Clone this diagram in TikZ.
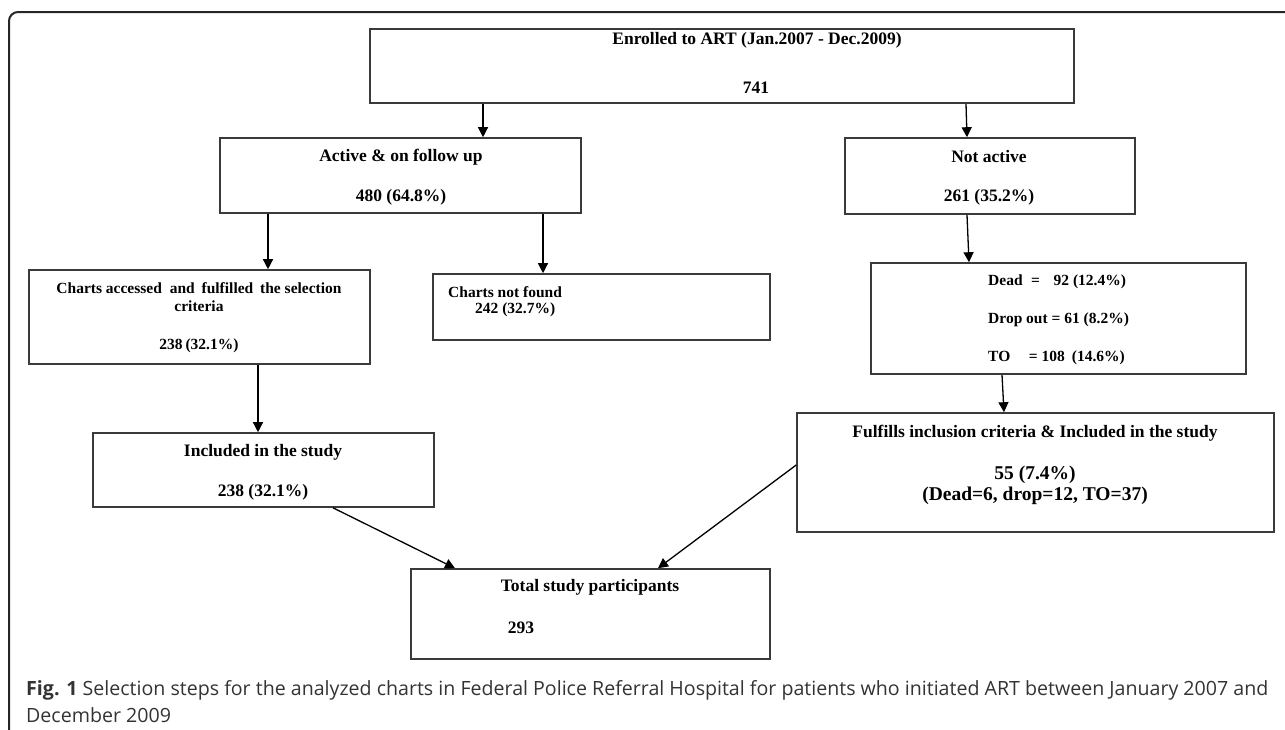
\documentclass[tikz,border=0pt]{standalone}
\usepackage{fontspec}
\setmainfont{Liberation Serif}
\newfontfamily\capfont{Open Sans}
\usetikzlibrary{arrows.meta}
\definecolor{boxline}{HTML}{3A3A3A}
\definecolor{captxt}{HTML}{333333}
\begin{document}
\begin{tikzpicture}[x=1pt,y=-1pt,
  box/.style={draw=boxline,line width=1.6pt,inner sep=0pt,rectangle},
  arr/.style={draw=black,line width=1.3pt,-{Triangle[length=10pt,width=10pt]}},
  big/.style={font=\fontsize{17.5}{20}\selectfont\bfseries,inner sep=0pt},
  mid/.style={font=\fontsize{15.5}{18}\selectfont\bfseries,inner sep=0pt},
  large/.style={font=\fontsize{19.5}{21}\selectfont\bfseries,inner sep=0pt},
  captext/.style={anchor=base west,inner sep=0pt,color=captxt,font=\capfont\fontsize{19.6}{27}\selectfont},
]
\useasboundingbox (0,0) rectangle (1285,729);
% frame
\draw[line width=2pt,color=black!85,rounded corners=9pt] (1295,12) -- (9,12) -- (9,740);

% boxes
\node[box,minimum width=704pt,minimum height=74pt] (top) at (722,66) {};
\node[box,minimum width=361pt,minimum height=75pt] (active) at (400.5,175.5) {};
\node[box,minimum width=290pt,minimum height=76pt] (notact) at (990,176) {};
\node[box,minimum width=341pt,minimum height=94pt] (charts) at (199.5,317) {};
\node[box,minimum width=337pt,minimum height=66pt] (notfound) at (601.5,307) {};
\node[box,minimum width=375pt,minimum height=111pt] (dead) at (1058.5,318.5) {};
\node[box,minimum width=477pt,minimum height=119pt] (ful) at (1035.5,472.5) {};
\node[box,minimum width=341pt,minimum height=74pt] (incl) at (263.5,470) {};
\node[box,minimum width=359pt,minimum height=90pt] (total) at (590.5,614) {};

% texts
\node[big] (topA) at (757,40) {Enrolled to ART (Jan.2007 - Dec.2009)};
\node[big] (topB) at (756,88) {741};
\node[big] (activeA) at (401,157) {Active \& on follow up};
\node[big] (activeB) at (401,197) {480 (64.8\%)};
\node[big] (notactA) at (989,157) {Not active};
\node[big] (notactB) at (989,197) {261 (35.2\%)};
\node[mid,align=center] (chartsA) at (199,297) {Charts accessed\hspace{4pt} and\hspace{3pt} fulfilled\hspace{3pt} the selection\\criteria};
\node[mid] (chartsB) at (199,346) {238\hspace{-1pt} (32.1\%)};
\node[mid,anchor=west] (notfoundA) at (448,292) {Charts not found};
\node[mid,anchor=west] (notfoundB) at (475,310) {242 (32.7\%)};
\node[mid,anchor=west] (deadA) at (988,282) {Dead\hspace{8.6pt}=\hspace{13.6pt}92 (12.4\%)};
\node[mid,anchor=west] (deadB) at (988,320) {Drop out = 61 (8.2\%)};
\node[mid,anchor=west] (deadC) at (988,358) {TO\hspace{18.6pt}= 108\hspace{7pt}(14.6\%)};
\node[big] (fulA) at (1035,433) {Fulfills inclusion criteria \& Included in the study};
\node[large] (fulB) at (1035,475) {55 (7.4\%)};
\node[large] (fulC) at (1035,496) {(Dead=6, drop=12, TO=37)};
\node[big] (inclA) at (263,452) {Included in the study};
\node[big] (inclB) at (263,492) {238 (32.1\%)};
\node[big] (totalA) at (590,587) {Total study participants};
\node[big] (totalB) at (521,628) {293};

% caption
\node[captext] (capA) at (26,695) {\textbf{Fig. 1} Selection steps for the analyzed charts in Federal Police Referral Hospital for patients who initiated ART between January 2007 and};
\node[captext] (capB) at (26,722) {December 2009};

% connectors
\draw[arr] ([xshift=-239pt]top.south) -- ([xshift=82.5pt]active.north);
\draw[arr] ([xshift=244pt]top.south) -- ([xshift=-23pt]notact.north);
\draw[arr] ([xshift=-132.5pt]active.south) -- ([xshift=68.5pt]charts.north);
\draw[arr] ([xshift=142.5pt]active.south) -- ([xshift=-58.5pt]notfound.north);
\draw[arr] ([xshift=-23pt]notact.south) -- ([xshift=-89.5pt]dead.north);
\draw[arr] ([xshift=-56.5pt]dead.south) -- ([xshift=-31.5pt]ful.north);
\draw[arr] ([xshift=58.5pt]charts.south) -- ([xshift=-5.5pt]incl.north);
\draw[arr] ([xshift=69.5pt]incl.south) -- ([xshift=-135.5pt]total.north);
\draw[arr] ([yshift=7.5pt]ful.west) -- ([xshift=67.5pt]total.north);
\end{tikzpicture}
\end{document}
